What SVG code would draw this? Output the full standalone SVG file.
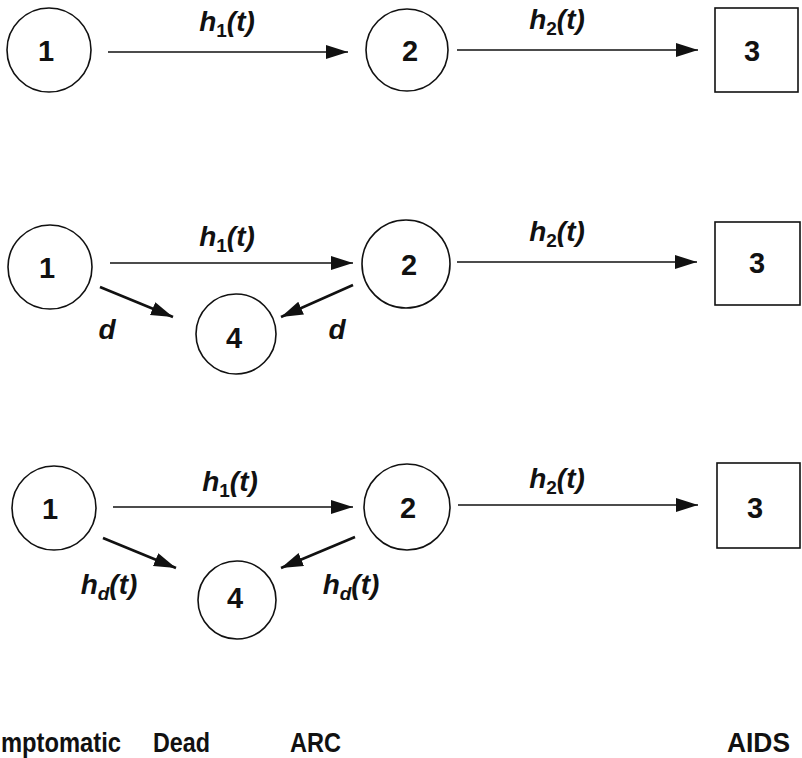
<svg xmlns="http://www.w3.org/2000/svg" width="802" height="758" viewBox="0 0 802 758">
<style>
.node{fill:#fff;stroke:#111;stroke-width:1.6}
.num{font-family:"Liberation Sans",Arial,sans-serif;font-weight:bold;font-size:29px;fill:#111;text-anchor:middle}
.lab{font-family:"Liberation Sans",Arial,sans-serif;font-weight:bold;font-style:italic;font-size:28px;fill:#111;text-anchor:middle}
.sub{font-size:19px;font-style:normal}
.subi{font-size:19px}
.cap{font-family:"Liberation Sans",Arial,sans-serif;font-weight:bold;font-size:27px;fill:#111}
.h{stroke:#111;stroke-width:1.6;fill:none;marker-end:url(#ah)}
.dg{stroke:#111;stroke-width:2.6;fill:none;marker-end:url(#ah)}
</style>
<defs>
<marker id="ah" markerUnits="userSpaceOnUse" markerWidth="24" markerHeight="16" refX="22" refY="7" orient="auto">
<path d="M0,0 L22,7 L0,14 z" fill="#111"/>
</marker>
</defs>
<rect width="802" height="758" fill="#fff"/>
<g id="connectors">
<line class="h" x1="108" y1="52" x2="348" y2="52"/>
<line class="h" x1="457" y1="50" x2="698" y2="50"/>
<line class="h" x1="110" y1="263" x2="353" y2="263"/>
<line class="h" x1="457" y1="262" x2="697" y2="262"/>
<line class="dg" x1="100" y1="287" x2="173" y2="317"/>
<line class="dg" x1="353" y1="285" x2="281" y2="317"/>
<line class="h" x1="113" y1="507" x2="353" y2="507"/>
<line class="h" x1="458" y1="505" x2="698" y2="505"/>
<line class="dg" x1="103" y1="538" x2="176" y2="568"/>
<line class="dg" x1="355" y1="537" x2="281" y2="568"/>
</g>
<g id="labels">
<text class="lab" x="227" y="31">h<tspan class="sub" dy="6">1</tspan><tspan dy="-6">(t)</tspan></text>
<text class="lab" x="557" y="29">h<tspan class="sub" dy="6">2</tspan><tspan dy="-6">(t)</tspan></text>
<text class="lab" x="227" y="246">h<tspan class="sub" dy="6">1</tspan><tspan dy="-6">(t)</tspan></text>
<text class="lab" x="557" y="241">h<tspan class="sub" dy="6">2</tspan><tspan dy="-6">(t)</tspan></text>
<text class="lab" x="107" y="339">d</text>
<text class="lab" x="337" y="339">d</text>
<text class="lab" x="230" y="491">h<tspan class="sub" dy="6">1</tspan><tspan dy="-6">(t)</tspan></text>
<text class="lab" x="557" y="488">h<tspan class="sub" dy="6">2</tspan><tspan dy="-6">(t)</tspan></text>
<text class="lab" x="109" y="594">h<tspan class="subi" dy="6">d</tspan><tspan dy="-6">(t)</tspan></text>
<text class="lab" x="351" y="594">h<tspan class="subi" dy="6">d</tspan><tspan dy="-6">(t)</tspan></text>
</g>
<g id="r1n1"><circle class="node" cx="49" cy="50" r="42"/><text class="num" x="46" y="61">1</text></g>
<g id="r1n2"><circle class="node" cx="407" cy="50" r="41"/><text class="num" x="410" y="61">2</text></g>
<g id="r1n3"><rect class="node" x="715" y="8" width="83" height="84"/><text class="num" x="752" y="61">3</text></g>
<g id="r2n1"><circle class="node" cx="50" cy="267" r="42"/><text class="num" x="47" y="278">1</text></g>
<g id="r2n2"><circle class="node" cx="406" cy="264" r="44"/><text class="num" x="409" y="275">2</text></g>
<g id="r2n4"><circle class="node" cx="236" cy="334" r="40"/><text class="num" x="234" y="348">4</text></g>
<g id="r2n3"><rect class="node" x="715" y="222" width="85" height="83"/><text class="num" x="757" y="273">3</text></g>
<g id="r3n1"><circle class="node" cx="54" cy="508" r="42"/><text class="num" x="50" y="519">1</text></g>
<g id="r3n2"><circle class="node" cx="407" cy="507" r="43"/><text class="num" x="408" y="518">2</text></g>
<g id="r3n4"><circle class="node" cx="237" cy="600" r="39"/><text class="num" x="235" y="608">4</text></g>
<g id="r3n3"><rect class="node" x="717" y="463" width="83" height="85"/><text class="num" x="755" y="518">3</text></g>
<g id="captions">
<text class="cap" x="1" y="752" textLength="120" lengthAdjust="spacingAndGlyphs">mptomatic</text>
<text class="cap" x="153" y="752" textLength="57" lengthAdjust="spacingAndGlyphs">Dead</text>
<text class="cap" x="290" y="752" textLength="51" lengthAdjust="spacingAndGlyphs">ARC</text>
<text class="cap" x="727" y="752" textLength="63" lengthAdjust="spacingAndGlyphs">AIDS</text>
</g>
</svg>
